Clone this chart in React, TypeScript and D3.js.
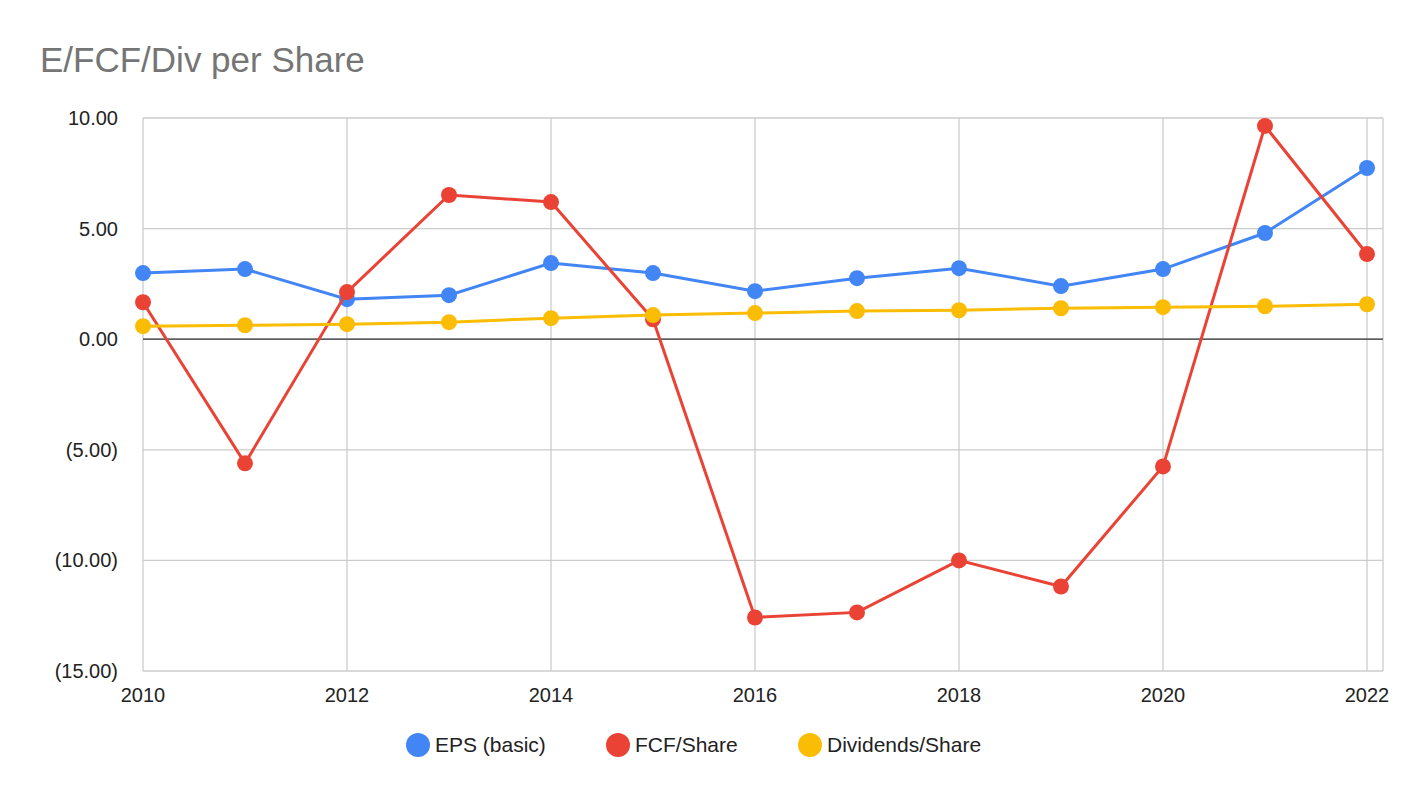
import React from "react";
import * as d3 from "d3";

const years = [2010,2011,2012,2013,2014,2015,2016,2017,2018,2019,2020,2021,2022];
const eps = [2.99,3.17,1.81,1.99,3.44,2.99,2.17,2.76,3.21,2.40,3.17,4.80,7.74];
const fcf = [1.67,-5.61,2.13,6.52,6.20,0.90,-12.58,-12.35,-10.0,-11.18,-5.75,9.64,3.85];
const divs = [0.59,0.63,0.68,0.77,0.95,1.09,1.18,1.27,1.31,1.40,1.45,1.49,1.58];
const yTicks = [10,5,0,-5,-10,-15];
const xTicks = [2010,2012,2014,2016,2018,2020,2022];
const seriesNames = ["EPS (basic)","FCF/Share","Dividends/Share"];
const colors = ["#4285f4","#ea4335","#fbbc04"];

export default function App() {
  const x = d3.scaleLinear().domain([2010,2022]).range([143,1367]);
  const y = d3.scaleLinear().domain([-15,10]).range([671,118]);
  const right = 1383;
  const fmt = (v: number) => v < 0 ? `(${Math.abs(v).toFixed(2)})` : v.toFixed(2);
  const line = d3.line<number>().x((_, i) => x(years[i])).y(d => y(d));
  const data = [eps, fcf, divs];
  const legendX = [418, 618, 810];
  return (
    <svg width={1422} height={798} style={{position:"absolute",left:0,top:0,background:"#fff"}} fontFamily="'Liberation Sans', Arial, sans-serif">
      <text x={40} y={72} fontSize={35} fill="#757575">E/FCF/Div per Share</text>
      {yTicks.map(t => (
        <g key={t}>
          <line x1={x(2010)} x2={right} y1={y(t)} y2={y(t)} stroke="#ccc" strokeWidth={1.3}/>
          <text x={118} y={y(t)+7} fontSize={20} textAnchor="end" fill="#222">{fmt(t)}</text>
        </g>
      ))}
      {xTicks.map(t => (
        <g key={t}>
          <line x1={x(t)} x2={x(t)} y1={118} y2={671} stroke="#ccc" strokeWidth={1.3}/>
          <text x={x(t)} y={702} fontSize={20} textAnchor="middle" fill="#222">{t}</text>
        </g>
      ))}
      <line x1={right} x2={right} y1={118} y2={671} stroke="#ccc" strokeWidth={1.3}/>
      <line x1={x(2010)} x2={right} y1={y(0)} y2={y(0)} stroke="#333" strokeWidth={1.3}/>
      {data.map((s, k) => (
        <g key={k}>
          <path d={line(s) || ""} fill="none" stroke={colors[k]} strokeWidth={3}/>
          {s.map((v, i) => <circle key={i} cx={x(years[i])} cy={y(v)} r={8} fill={colors[k]}/>)}
        </g>
      ))}
      {seriesNames.map((n, k) => (
        <g key={n}>
          <circle cx={legendX[k]} cy={745} r={12} fill={colors[k]}/>
          <text x={legendX[k]+17} y={752} fontSize={21} fill="#222">{n}</text>
        </g>
      ))}
    </svg>
  );
}
